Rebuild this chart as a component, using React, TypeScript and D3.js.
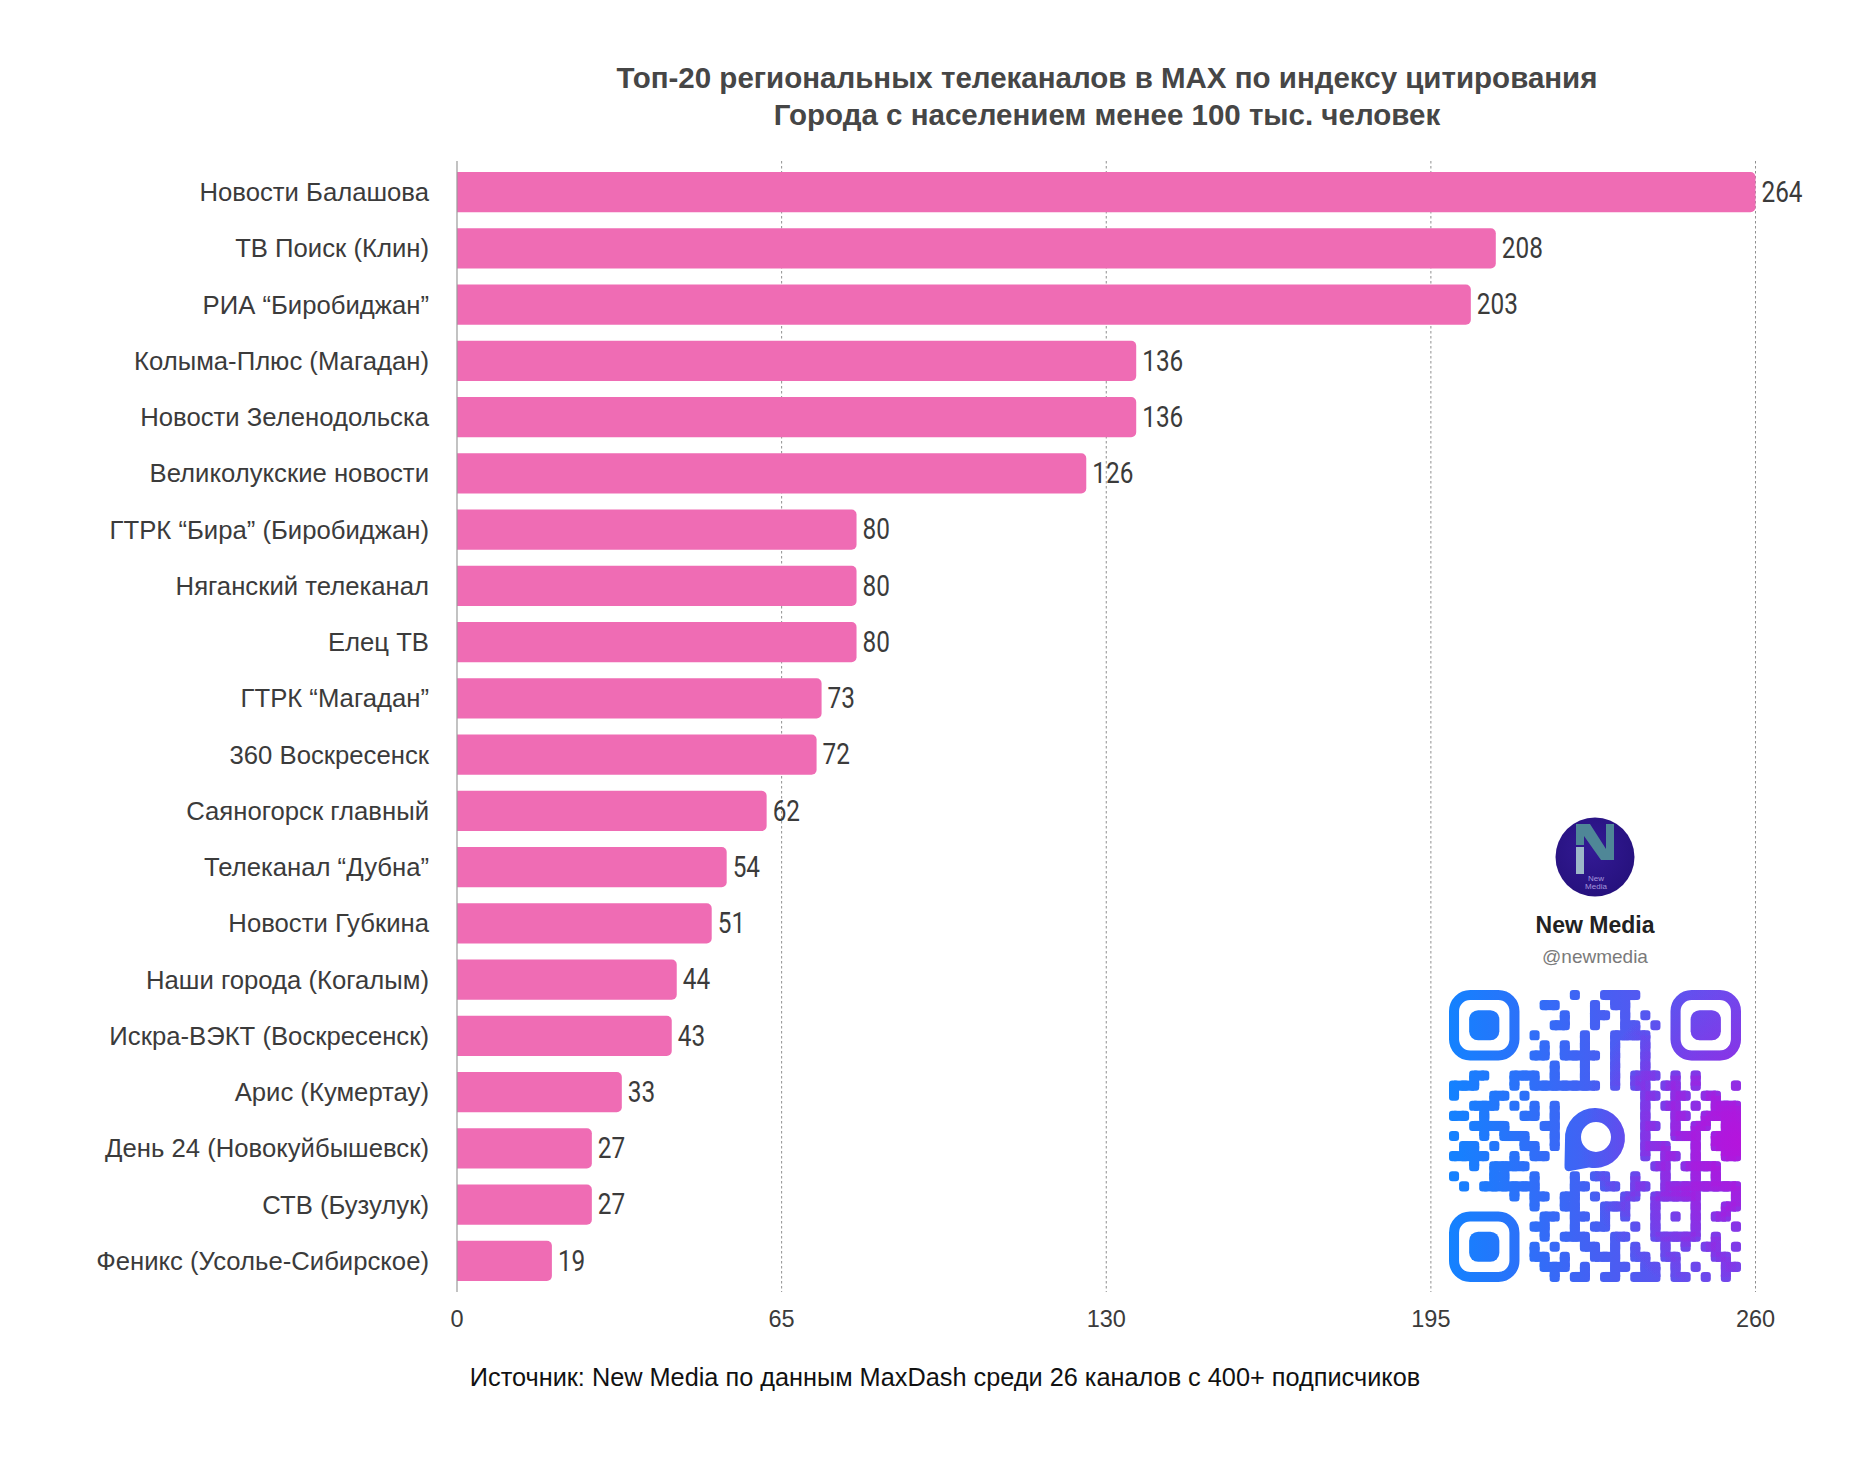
import React from 'react';
import * as d3 from 'd3';

// ---------- data ----------
const CATEGORIES = [
  'Новости Балашова',
  'ТВ Поиск (Клин)',
  'РИА “Биробиджан”',
  'Колыма-Плюс (Магадан)',
  'Новости Зеленодольска',
  'Великолукские новости',
  'ГТРК “Бира” (Биробиджан)',
  'Няганский телеканал',
  'Елец ТВ',
  'ГТРК “Магадан”',
  '360 Воскресенск',
  'Саяногорск главный',
  'Телеканал “Дубна”',
  'Новости Губкина',
  'Наши города (Когалым)',
  'Искра-ВЭКТ (Воскресенск)',
  'Арис (Кумертау)',
  'День 24 (Новокуйбышевск)',
  'СТВ (Бузулук)',
  'Феникс (Усолье-Сибирское)',
];
const VALUES = [264, 208, 203, 136, 136, 126, 80, 80, 80, 73, 72, 62, 54, 51, 44, 43, 33, 27, 27, 19];
const X_TICKS = [0, 65, 130, 195, 260];
const X_MAX = 260;
const TITLE_LINES = [
  'Топ-20 региональных телеканалов в MAX по индексу цитирования',
  'Города с населением менее 100 тыс. человек',
];
const SOURCE_NOTE = 'Источник: New Media по данным MaxDash среди 26 каналов с 400+ подписчиков';
const BRAND_NAME = 'New Media';
const BRAND_HANDLE = '@newmedia';

// QR code modules (decorative), 29 x 29, '1' = dark
const QR_ROWS = [
  '1111111' + '000001001111000' + '1111111',
  '1000001' + '001100010110000' + '1000001',
  '1011101' + '000010011010100' + '1011101',
  '1011101' + '000110010011010' + '1011101',
  '1011101' + '010000100111100' + '1011101',
  '1000001' + '001010100100100' + '1000001',
  '1111111' + '011011110100100' + '1111111',
  '0000000' + '000100100100100' + '0000000',
  '00110011101001001011101010000',
  '11100010111111101011011010001',
  '10001101000000000001101101100',
  '00111010101' + '0000000' + '01011010111',
  '11010001101' + '0000000' + '01001101111',
  '00111100011' + '0000000' + '01101011011',
  '10010111001' + '0000000' + '01001110111',
  '01101001101' + '0000000' + '01110010111',
  '11110010110' + '0000000' + '01011010011',
  '00101111000' + '0000000' + '00110111100',
  '10001100100010110010010010100',
  '01011111100011011011011111111',
  '00000010110110100110' + '11111' + '0001',
  '00000000' + '100110011100100010011',
  '1111111' + '0' + '011011010100101010110',
  '1000001' + '0' + '110010110010100010001',
  '1011101' + '0' + '010111001100111110100',
  '1011101' + '0' + '101001101010010101101',
  '1011101' + '0' + '110100111011011000110',
  '1000001' + '0' + '011101001101101010011',
  '1111111' + '0' + '001011011011101101010',
];

// ---------- layout ----------
const W = 1876;
const H = 1464;
const PLOT = { left: 457, right: 1755.5, top: 161, bottom: 1292 };
const BAR_COLOR = '#EF6CB4';
const TEXT_COLOR = '#3b3b3b';
const SANS = '"Liberation Sans", Arial, Helvetica, sans-serif';

function barPath(x0: number, y0: number, w: number, h: number, r: number) {
  const rr = Math.max(0, Math.min(r, w, h / 2));
  return `M${x0},${y0}H${x0 + w - rr}A${rr},${rr} 0 0 1 ${x0 + w},${y0 + rr}V${y0 + h - rr}A${rr},${rr} 0 0 1 ${x0 + w - rr},${y0 + h}H${x0}Z`;
}

function QRCode({ x0, y0, size }: { x0: number; y0: number; size: number }) {
  const n = QR_ROWS.length;
  const q = d3.scaleLinear().domain([0, n]).range([0, size]);
  const m = size / n;
  const inFinder = (r: number, c: number) =>
    (r < 7 && c < 7) || (r < 7 && c >= n - 7) || (r >= n - 7 && c < 7);
  const isDark = (r: number, c: number) =>
    r >= 0 && c >= 0 && r < n && c < n && QR_ROWS[r][c] === '1' && !inFinder(r, c);
  const cells: { r: number; c: number }[] = [];
  QR_ROWS.forEach((row, r) => {
    row.split('').forEach((ch, c) => {
      if (isDark(r, c)) cells.push({ r, c });
    });
  });
  const joinsH = cells.filter(({ r, c }) => isDark(r, c + 1));
  const joinsV = cells.filter(({ r, c }) => isDark(r + 1, c));
  const finders = [
    [0, 0],
    [0, n - 7],
    [n - 7, 0],
  ];
  const cx = x0 + size / 2;
  const cy = y0 + q(14.7);
  const bubble =
    `M${cx - 30},${cy + 2}A30,30 0 1 1 ${cx - 6},${cy + 29.4}L${cx - 25},${cy + 33}Q${cx - 31},${cy + 34} ${cx - 30.5},${cy + 27}Z` +
    `M${cx + 1 - 15},${cy - 1}A15,15 0 1 0 ${cx + 1 + 15},${cy - 1}A15,15 0 1 0 ${cx + 1 - 15},${cy - 1}Z`;
  const rx = 3.2;
  const content = (fill: string) => (
    <g fill={fill}>
      {cells.map(({ r, c }) => (
        <rect key={`${r}-${c}`} x={x0 + q(c)} y={y0 + q(r)} width={m} height={m} rx={rx} />
      ))}
      {joinsH.map(({ r, c }) => (
        <rect key={`h${r}-${c}`} x={x0 + q(c) + m / 2} y={y0 + q(r)} width={m} height={m} />
      ))}
      {joinsV.map(({ r, c }) => (
        <rect key={`v${r}-${c}`} x={x0 + q(c)} y={y0 + q(r) + m / 2} width={m} height={m} />
      ))}
      {finders.map(([r, c]) => (
        <g key={`f${r}-${c}`}>
          <rect
            x={x0 + q(c) + m / 2}
            y={y0 + q(r) + m / 2}
            width={6 * m}
            height={6 * m}
            rx={1.6 * m}
            fill="none"
            stroke={fill}
            strokeWidth={m}
          />
          <rect x={x0 + q(c + 2)} y={y0 + q(r + 2)} width={3 * m} height={3 * m} rx={0.9 * m} />
        </g>
      ))}
      <path d={bubble} fillRule="evenodd" />
    </g>
  );
  return (
    <g>
      <defs>
        <linearGradient id="qrLin" gradientUnits="userSpaceOnUse" x1={x0} y1={y0} x2={x0 + size} y2={y0}>
          <stop offset="0" stopColor="#1382FF" />
          <stop offset="0.5" stopColor="#4560F3" />
          <stop offset="1" stopColor="#7248EC" />
        </linearGradient>
        <radialGradient id="qrRad" gradientUnits="userSpaceOnUse" cx={x0 + size} cy={y0 + size * 0.52} r={size * 0.55}>
          <stop offset="0" stopColor="#B514DC" stopOpacity={0.95} />
          <stop offset="0.55" stopColor="#A020E0" stopOpacity={0.45} />
          <stop offset="1" stopColor="#9028E4" stopOpacity={0} />
        </radialGradient>
      </defs>
      {content('url(#qrLin)')}
      {content('url(#qrRad)')}
    </g>
  );
}

function BrandLogo({ cx, cy, r }: { cx: number; cy: number; r: number }) {
  const pts = (arr: number[][]) => arr.map(([a, b]) => `${cx + a},${cy + b}`).join(' ');
  return (
    <g>
      <defs>
        <radialGradient id="logoBg" cx="0.45" cy="0.4" r="0.7">
          <stop offset="0" stopColor="#331a95" />
          <stop offset="1" stopColor="#24107a" />
        </radialGradient>
      </defs>
      <circle cx={cx} cy={cy} r={r} fill="url(#logoBg)" />
      <polygon
        points={pts([
          [-19, -33],
          [-5, -33],
          [11, -8],
          [11, -33],
          [19, -33],
          [19, 3],
          [6, 3],
          [-11, -21],
          [-11, -12],
          [-19, -12],
        ])}
        fill="#4f8797"
      />
      <rect x={cx - 19} y={cy - 10} width={8} height={27} fill="#9cb8c8" />
      <text x={cx + 1} y={cy + 24} textAnchor="middle" fontFamily={SANS} fontSize={8} fill="#a796dc">
        New
      </text>
      <text x={cx + 1} y={cy + 32} textAnchor="middle" fontFamily={SANS} fontSize={8} fill="#a796dc">
        Media
      </text>
    </g>
  );
}

export default function App() {
  const x = d3.scaleLinear().domain([0, X_MAX]).range([PLOT.left, PLOT.right]).clamp(true);
  const y = d3
    .scaleBand<string>()
    .domain(CATEGORIES)
    .range([PLOT.top, PLOT.bottom])
    .paddingInner(0.285)
    .paddingOuter(0.196);
  const bw = y.bandwidth();
  const data = CATEGORIES.map((name, i) => ({ name, value: VALUES[i] }));

  return (
    <div style={{ position: 'absolute', left: 0, top: 0 }}>
      <svg width={W} height={H} viewBox={`0 0 ${W} ${H}`} style={{ display: 'block', background: '#fff' }}>
        <rect x={0} y={0} width={W} height={H} fill="#fff" />

        {/* title */}
        {TITLE_LINES.map((t, i) => (
          <text
            key={i}
            x={1107}
            y={77 + i * 37.5}
            textAnchor="middle"
            dominantBaseline="central"
            fontFamily={SANS}
            fontWeight="bold"
            fontSize={29.5}
            fill="#464646"
          >
            {t}
          </text>
        ))}

        {/* grid */}
        {X_TICKS.filter((t) => t > 0).map((t) => (
          <line
            key={t}
            x1={x(t)}
            x2={x(t)}
            y1={PLOT.top}
            y2={PLOT.bottom}
            stroke="#8f8f8f"
            strokeWidth={1}
            strokeDasharray="2.5,2.5"
          />
        ))}

        {/* bars */}
        {data.map((d) => (
          <path
            key={d.name}
            d={barPath(x(0), y(d.name)!, x(d.value) - x(0), bw, 5)}
            fill={BAR_COLOR}
          />
        ))}

        {/* axis line */}
        <line x1={x(0)} x2={x(0)} y1={PLOT.top} y2={PLOT.bottom} stroke="#9a9a9a" strokeWidth={1.2} />

        {/* category labels */}
        {data.map((d) => (
          <text
            key={d.name}
            x={429}
            y={y(d.name)! + bw / 2}
            textAnchor="end"
            dominantBaseline="central"
            fontFamily={SANS}
            fontSize={25.7}
            fill={TEXT_COLOR}
          >
            {d.name}
          </text>
        ))}

        {/* value labels */}
        {data.map((d) => (
          <text
            key={d.name}
            transform={`translate(${x(d.value) + 6},${y(d.name)! + bw / 2}) scale(0.84,1)`}
            dominantBaseline="central"
            fontFamily="Roboto, 'Liberation Sans', sans-serif"
            fontSize={29}
            fill={TEXT_COLOR}
          >
            {d.value}
          </text>
        ))}

        {/* x tick labels */}
        {X_TICKS.map((t) => (
          <text
            key={t}
            x={x(t)}
            y={1319}
            textAnchor="middle"
            dominantBaseline="central"
            fontFamily={SANS}
            fontSize={23.5}
            fill={TEXT_COLOR}
          >
            {t}
          </text>
        ))}

        {/* source */}
        <text
          x={945}
          y={1377}
          textAnchor="middle"
          dominantBaseline="central"
          fontFamily={SANS}
          fontSize={25.3}
          fill="#111"
        >
          {SOURCE_NOTE}
        </text>

        {/* brand block */}
        <BrandLogo cx={1595} cy={857} r={39.5} />
        <text
          x={1595}
          y={925}
          textAnchor="middle"
          dominantBaseline="central"
          fontFamily={SANS}
          fontWeight="bold"
          fontSize={23}
          fill="#222"
        >
          {BRAND_NAME}
        </text>
        <text
          x={1595}
          y={956}
          textAnchor="middle"
          dominantBaseline="central"
          fontFamily={SANS}
          fontSize={19}
          fill="#7a7a7a"
        >
          {BRAND_HANDLE}
        </text>
        <QRCode x0={1449} y0={990} size={292} />
      </svg>
    </div>
  );
}
